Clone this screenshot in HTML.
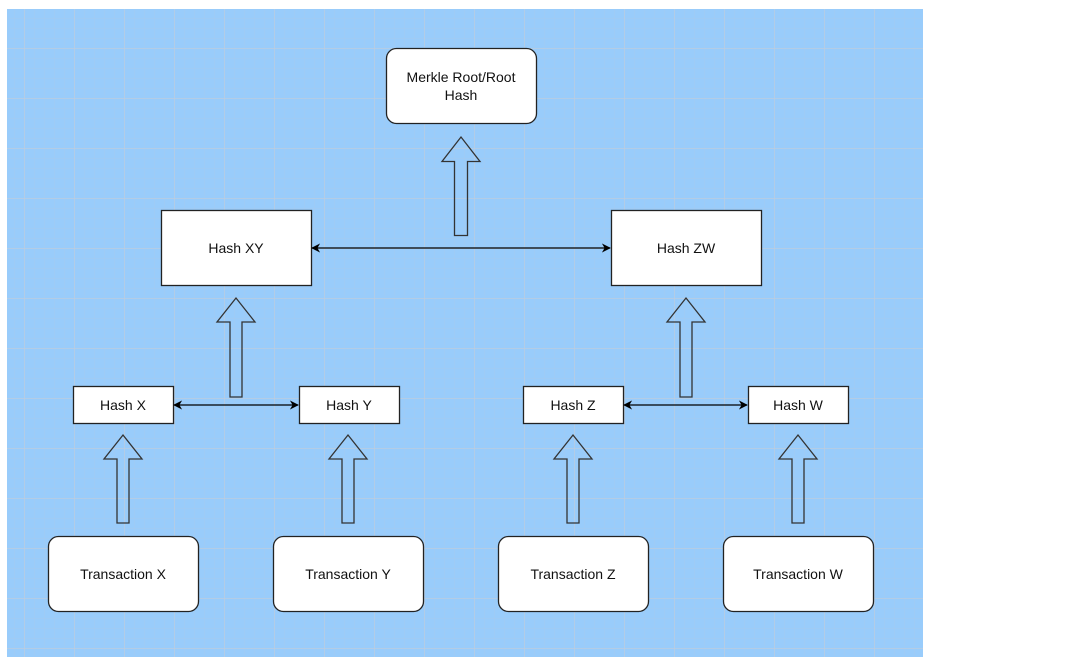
<!DOCTYPE html>
<html><head><meta charset="utf-8"><style>
html,body{margin:0;padding:0;background:#fff;width:1067px;height:662px;overflow:hidden}
#bg{position:absolute;left:7px;top:9px;width:916px;height:648px;background-color:#99ccfb;
background-image:
linear-gradient(to right, rgba(195,205,218,0.55) 1px, transparent 1px),
linear-gradient(to bottom, rgba(195,205,218,0.55) 1px, transparent 1px),
linear-gradient(to right, rgba(185,200,220,0.2) 1px, transparent 1px),
linear-gradient(to bottom, rgba(185,200,220,0.2) 1px, transparent 1px);
background-size:50px 50px,50px 50px,10px 10px,10px 10px;
background-position:17px 39px,17px 39px,7px 9px,7px 9px;}
svg{position:absolute;left:0;top:0}
text{font-family:"Liberation Sans",sans-serif;font-size:14px;fill:#111;text-anchor:middle}
</style></head><body>
<div id="bg"></div>
<svg width="1067" height="662">
<defs>
<marker id="a" viewBox="0 0 10 10" refX="9" refY="5" markerWidth="9" markerHeight="9" orient="auto-start-reverse" markerUnits="userSpaceOnUse"><path d="M0,0 L10,5 L0,10 L3,5 z" fill="#000"/></marker>
</defs>
<g fill="#fff" stroke="#222" stroke-width="1.3">
<rect x="386.5" y="48.5" width="150" height="75" rx="10"/>
<rect x="161.5" y="210.5" width="150" height="75"/>
<rect x="611.5" y="210.5" width="150" height="75"/>
<rect x="73.5" y="386.5" width="100" height="37"/>
<rect x="299.5" y="386.5" width="100" height="37"/>
<rect x="523.5" y="386.5" width="100" height="37"/>
<rect x="748.5" y="386.5" width="100" height="37"/>
<rect x="48.5" y="536.5" width="150" height="75" rx="10"/>
<rect x="273.5" y="536.5" width="150" height="75" rx="10"/>
<rect x="498.5" y="536.5" width="150" height="75" rx="10"/>
<rect x="723.5" y="536.5" width="150" height="75" rx="10"/>
</g>
<g fill="none" stroke="#333" stroke-width="1.3">
<path d="M454.5,235.5 V161.5 H442 L461,137 L480,161.5 H467.5 V235.5 Z"/>
<path d="M230,397 V322 H217 L236,298 L255,322 H242 V397 Z"/>
<path d="M680,397 V322 H667 L686,298 L705,322 H692 V397 Z"/>
<path d="M117,523 V459 H104 L123,435 L142,459 H129 V523 Z"/>
<path d="M342,523 V459 H329 L348,435 L367,459 H354 V523 Z"/>
<path d="M567,523 V459 H554 L573,435 L592,459 H579 V523 Z"/>
<path d="M792,523 V459 H779 L798,435 L817,459 H804 V523 Z"/>
</g>
<g stroke="#000" stroke-width="1.3">
<line x1="312" y1="248" x2="610" y2="248" marker-start="url(#a)" marker-end="url(#a)"/>
<line x1="174" y1="405" x2="298" y2="405" marker-start="url(#a)" marker-end="url(#a)"/>
<line x1="624" y1="405" x2="747" y2="405" marker-start="url(#a)" marker-end="url(#a)"/>
</g>
<text x="461" y="82">Merkle Root/Root</text>
<text x="461" y="100">Hash</text>
<text x="236" y="253">Hash XY</text>
<text x="686" y="253">Hash ZW</text>
<text x="123" y="410">Hash X</text>
<text x="349" y="410">Hash Y</text>
<text x="573" y="410">Hash Z</text>
<text x="798" y="410">Hash W</text>
<text x="123" y="579">Transaction X</text>
<text x="348" y="579">Transaction Y</text>
<text x="573" y="579">Transaction Z</text>
<text x="798" y="579">Transaction W</text>
</svg>
</body></html>
